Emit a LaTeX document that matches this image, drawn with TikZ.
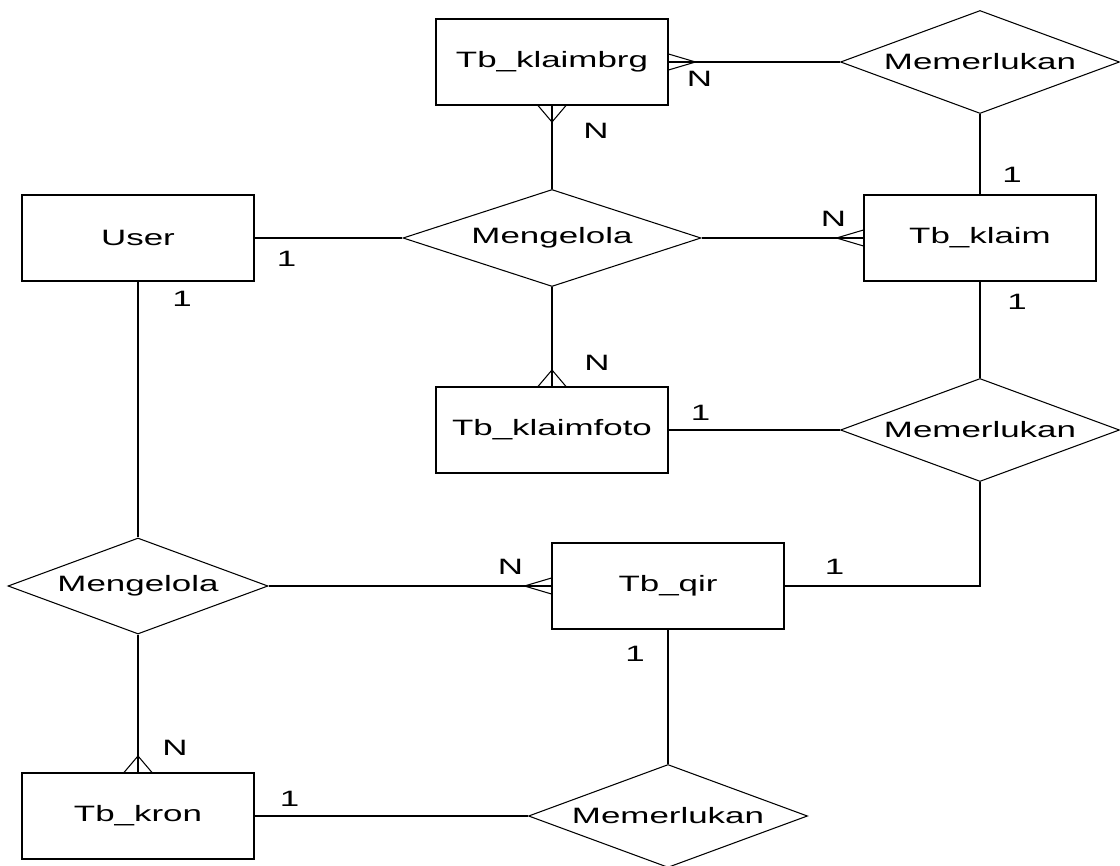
\documentclass[tikz,border=0pt]{standalone}
\usepackage{fontspec}
\newfontfamily\erfont[FakeStretch=1.57]{Liberation Sans}
\usepackage{tikz}
\usetikzlibrary{shapes.geometric,decorations.markings}
\tikzset{node distance=4cm, auto}
\tikzset{
	entity/.style={draw, rectangle, minimum width=4.64cm, minimum height=1.72cm, inner sep=0pt},
	relation/.style={draw, diamond, aspect=2.7, minimum width=5.58cm, minimum height=2.06cm, inner sep=0pt},
	card/.style={inner sep=0pt},
	% crow's foot at the end of a line: #1 length, #2 half spread
	many/.style 2 args={postaction={decorate}, decoration={markings, mark=at position 1 with {\draw[line width=0.6pt] (-#1,0pt) -- (0pt,#2) (-#1,0pt) -- (0pt,-#2);}}},
	manyh/.style={many={0.54cm}{0.16cm}},
	manyv/.style={many={0.33cm}{0.28cm}}
}

\begin{document}
\begin{tikzpicture}[auto, line width=0.6pt, every node/.style={font=\erfont\fontsize{12.65}{15}\selectfont}]
		\useasboundingbox (-2.76,4.76) rectangle (19.64,-12.56);
		\node[entity](user){User};
		\node[relation, minimum width=5.96cm, minimum height=1.94cm](kelola)[right of=user, node distance=8.28cm]{Mengelola};
		\node[entity](klaim)[right of=kelola, node distance=8.56cm]{Tb\_klaim};
		\node[entity](klaimbrg)[above of=kelola, node distance=3.52cm]{Tb\_klaimbrg};
		\node[relation](perlu1)[above of=klaim, node distance=3.52cm]{Memerlukan};
		\node[entity](klaimfoto)[below of=kelola, node distance=3.84cm]{Tb\_klaimfoto};
		\node[relation](perlu2)[below of=klaim, node distance=3.84cm]{Memerlukan};
		\node[relation, minimum width=5.2cm, minimum height=1.92cm](kelola2)[below of=user, node distance=6.96cm]{Mengelola};
		\node[entity](qir)[right of=kelola2, node distance=10.6cm]{Tb\_qir};
		\node[entity](kron)[below of=kelola2, node distance=4.6cm]{Tb\_kron};
		\node[relation](perlu3)[right of=kron, node distance=10.6cm]{Memerlukan};
		% connectors
		\draw(user) -- (kelola);
		\draw(user) -- (kelola2);
		\draw[manyv](kelola) -- (klaimbrg);
		\draw[manyh](kelola) -- (klaim);
		\draw[manyv](kelola) -- (klaimfoto);
		\draw[manyh](perlu1) -- (klaimbrg);
		\draw(perlu1) -- (klaim);
		\draw(klaim) -- (perlu2);
		\draw(klaimfoto) -- (perlu2);
		\draw(qir) -| (perlu2);
		\draw[manyh](kelola2) -- (qir);
		\draw[manyv](kelola2) -- (kron);
		\draw(qir) -- (perlu3);
		\draw(kron) -- (perlu3);
		% cardinalities
		\node[card](c1) at ([shift={(0.64,-0.42)}]user.east){1};
		\node[card](c2) at ([shift={(0.88,-0.34)}]user.south){1};
		\node[card](c3) at ([shift={(0.88,-0.5)}]klaimbrg.south){N};
		\node[card](c4) at ([shift={(0.62,-0.34)}]klaimbrg.east){N};
		\node[card](c5) at ([shift={(0.64,0.4)}]klaim.north){1};
		\node[card](c6) at ([shift={(-0.6,0.38)}]klaim.west){N};
		\node[card](c7) at ([shift={(0.74,-0.4)}]klaim.south){1};
		\node[card](c8) at ([shift={(0.9,0.48)}]klaimfoto.north){N};
		\node[card](c9) at ([shift={(0.64,0.34)}]klaimfoto.east){1};
		\node[card](c10) at ([shift={(-0.82,0.38)}]qir.west){N};
		\node[card](c11) at ([shift={(1.0,0.38)}]qir.east){1};
		\node[card](c12) at ([shift={(-0.66,-0.48)}]qir.south){1};
		\node[card](c13) at ([shift={(0.74,0.5)}]kron.north){N};
		\node[card](c14) at ([shift={(0.7,0.34)}]kron.east){1};
	\end{tikzpicture}
\end{document}
